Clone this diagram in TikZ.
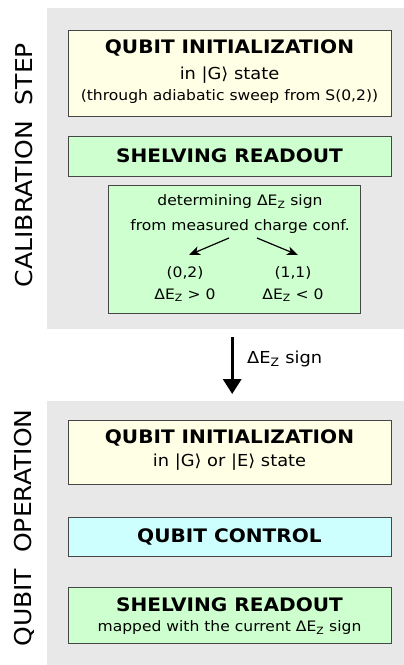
\documentclass[tikz,border=0pt]{standalone}
\usepackage{fontspec}
\setmainfont{DejaVu Sans}[FakeStretch=1.08]
\usetikzlibrary{arrows.meta,calc}
\definecolor{panelgray}{RGB}{232,232,232}
\definecolor{boxyellow}{RGB}{255,255,230}
\definecolor{boxgreen}{RGB}{206,255,206}
\definecolor{boxcyan}{RGB}{206,255,255}
\definecolor{boxedge}{RGB}{70,70,70}
\newcommand{\dEz}{ΔE\textsubscript{Z}}
\newcommand{\ketG}{|G⟩}
\newcommand{\ketE}{|E⟩}
\tikzset{
  panel/.style={fill=panelgray, draw=none, inner sep=0pt, anchor=north west},
  stepbox/.style={draw=boxedge, line width=1pt, inner sep=0pt, align=center},
  title/.style={font=\fontsize{18.6}{22}\selectfont\bfseries},
  sub/.style={font=\fontsize{16.5}{20}\selectfont},
  small/.style={font=\fontsize{14.4}{17}\selectfont},
  txt/.style={inner sep=0pt, align=center},
  side/.style={font=\fontsize{23.2}{27}\selectfont, rotate=90, inner sep=0pt},
  thin arrow/.style={line width=1.2pt, -{Stealth[length=11pt,width=9pt,inset=3pt]}},
  big arrow/.style={line width=3.4pt, -{Triangle[length=15pt,width=18pt]}}
}
\begin{document}
\begin{tikzpicture}[x=1pt,y=-1pt]
  \useasboundingbox (0,0) rectangle (404,665);

  % background panels
  \node[panel, minimum width=357pt, minimum height=321pt] (calpanel) at (47,8) {};
  \node[panel, minimum width=357pt, minimum height=264pt] (oppanel) at (47,401) {};

  % side captions
  \node[side] (calcap) at (24.5,165) {CALIBRATION\ \ STEP};
  \node[side] (opcap) at (24.5,528) {QUBIT\ \ OPERATION};

  % calibration step
  \node[stepbox, fill=boxyellow, minimum width=323pt, minimum height=86pt] (init1) at (229.5,73) {};
  \node[txt, title] (init1a) at (229.5,48) {QUBIT INITIALIZATION};
  \node[txt, sub] (init1b) at (229.5,75) {in \ketG\ state};
  \node[txt, small] (init1c) at (229.5,97) {(through adiabatic sweep from S(0,2))};

  \node[stepbox, fill=boxgreen, minimum width=323pt, minimum height=40pt] (shelv1) at (229.5,156) {};
  \node[txt, title] (shelv1a) at (229.5,156) {SHELVING READOUT};

  \node[stepbox, fill=boxgreen, minimum width=252pt, minimum height=128pt] (det) at (234,249) {};
  \node[txt, small] (deta) at (240,202) {determining \dEz\ sign};
  \node[txt, small] (detb) at (240,227) {from measured charge conf.};
  \node[txt, small] (r02a) at (185,273) {(0,2)};
  \node[txt, small] (r02b) at (185,295) {\dEz\ > 0};
  \node[txt, small] (r11a) at (293,273) {(1,1)};
  \node[txt, small] (r11b) at (293,295) {\dEz\ < 0};
  \draw[thin arrow] ($(det.center)+(-5,-11)$) -- ($(det.center)+(-45,6)$);
  \draw[thin arrow] ($(det.center)+(23,-11)$) -- ($(det.center)+(64,6)$);

  % hand-over of the sign
  \draw[big arrow] ($(calpanel.south)+(6.5,8)$) -- ($(oppanel.north)+(6.5,-7)$);
  \node[txt, sub, anchor=west] (signlbl) at (247,359) {\dEz\ sign};

  % qubit operation
  \node[stepbox, fill=boxyellow, minimum width=323pt, minimum height=64pt] (init2) at (229.5,452) {};
  \node[txt, title] (init2a) at (229.5,438) {QUBIT INITIALIZATION};
  \node[txt, sub] (init2b) at (229.5,462) {in \ketG\ or \ketE\ state};

  \node[stepbox, fill=boxcyan, minimum width=323pt, minimum height=39pt] (ctrl) at (229.5,536.5) {};
  \node[txt, title] (ctrla) at (229.5,536.5) {QUBIT CONTROL};

  \node[stepbox, fill=boxgreen, minimum width=323pt, minimum height=56pt] (shelv2) at (229.5,615) {};
  \node[txt, title] (shelv2a) at (229.5,605) {SHELVING READOUT};
  \node[txt, small] (shelv2b) at (229.5,628) {mapped with the current \dEz\ sign};
\end{tikzpicture}
\end{document}
